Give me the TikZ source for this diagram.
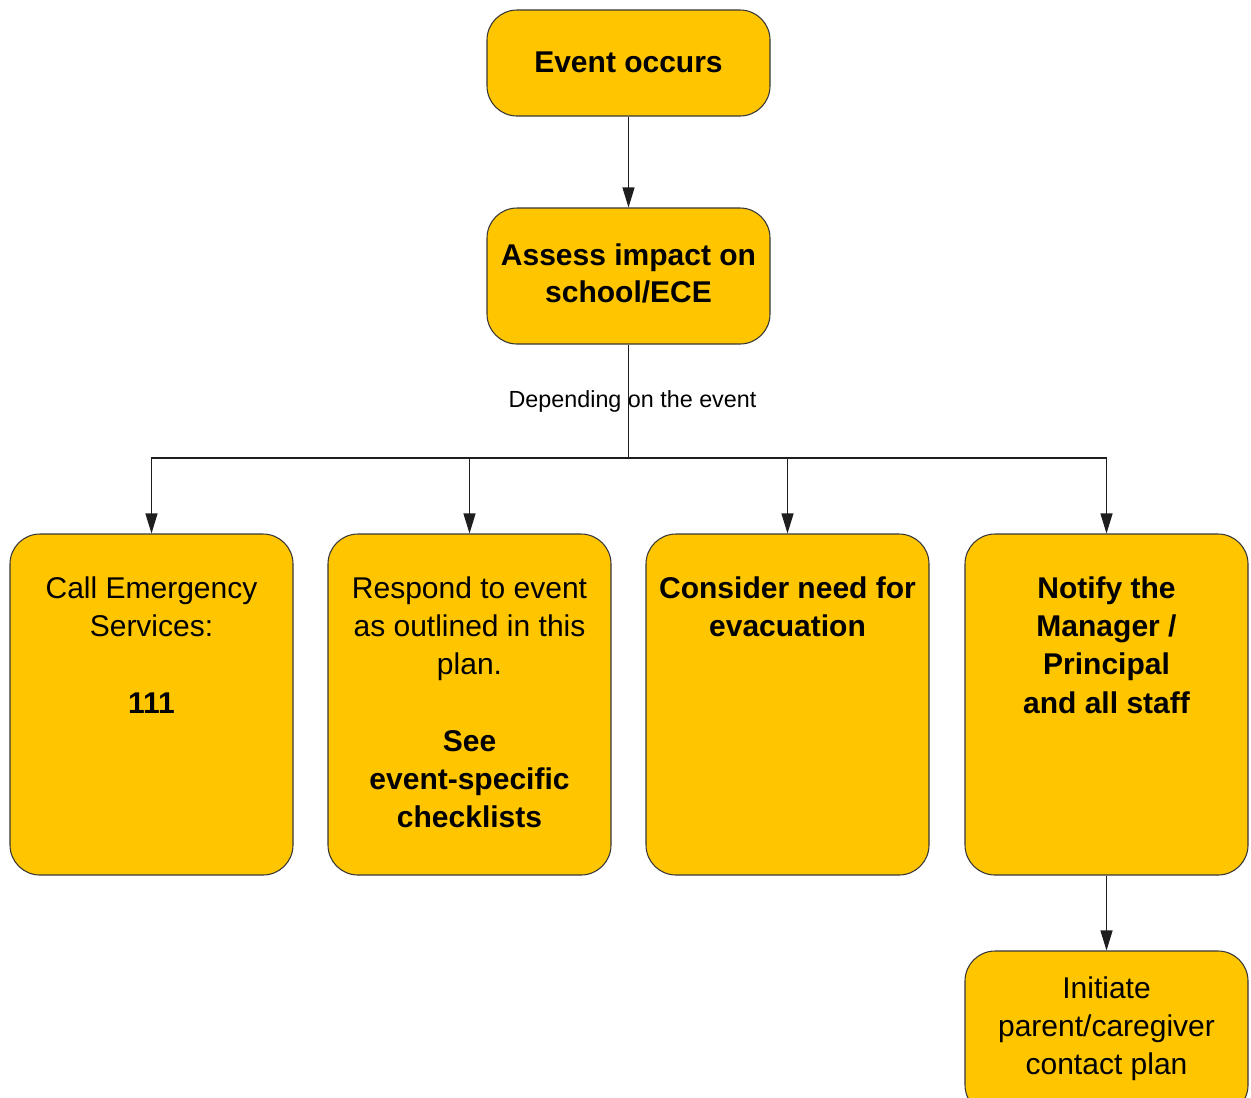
\documentclass[tikz,border=0pt]{standalone}
\usepackage{fontspec}
\setmainfont{Liberation Sans}
\usetikzlibrary{arrows.meta}
\definecolor{boxfill}{RGB}{255,198,0}
\definecolor{boxline}{RGB}{55,55,55}
\definecolor{conn}{RGB}{30,30,30}
\begin{document}
\begin{tikzpicture}[x=0.75pt,y=-0.75pt,
  box/.style={draw=boxline, line width=0.8pt, fill=boxfill, rounded corners=22.5pt, inner sep=0pt, minimum width=212.25pt},
  txt/.style={font=\fontsize{22.5}{28.7}\selectfont, align=center, inner sep=0pt, anchor=north},
  one/.style={font=\fontsize{22.5}{28.7}\selectfont\bfseries, inner sep=0pt, anchor=base},
  lbl/.style={font=\fontsize{17.5}{21}\selectfont, inner sep=0pt, anchor=base},
  arr/.style={draw=conn, line width=0.8pt, -{Triangle[length=15pt,width=9pt]}},
  ln/.style={draw=conn, line width=0.8pt}]
\clip (0,0) rectangle (1251,1097);
\fill[white] (0,0) rectangle (1251,1097);
% boxes
\node[box, minimum height=79.5pt] (ev) at (628.5,63) {};
\node[box, minimum height=102pt] (as) at (628.5,276) {};
\node[box, minimum height=255.75pt] (b1) at (151.5,704.5) {};
\node[box, minimum height=255.75pt] (b2) at (469.5,704.5) {};
\node[box, minimum height=255.75pt] (b3) at (787.5,704.5) {};
\node[box, minimum height=255.75pt] (b4) at (1106.5,704.5) {};
\node[box, minimum height=123pt] (b5) at (1106.5,1033) {};
% texts
\node[one] (tev) at (628.5,72) {Event occurs};
\node[txt, font=\fontsize{22.5}{27.8}\selectfont\bfseries] (tas) at (628.5,238.33) {\rule{0pt}{20pt}Assess impact on\\school/ECE};
\node[txt] (t1) at (151.5,571.33) {\rule{0pt}{20pt}Call Emergency\\Services:\\[28.7pt]\textbf{111}};
\node[txt] (t2) at (469.5,571.33) {\rule{0pt}{20pt}Respond to event\\as outlined in this\\plan.\\[28.7pt]\textbf{See}\\\textbf{event-specific}\\\textbf{checklists}};
\node[txt, font=\fontsize{22.5}{28.7}\selectfont\bfseries] (t3) at (787.5,571.33) {\rule{0pt}{20pt}Consider need for\\evacuation};
\node[txt, font=\fontsize{22.5}{28.7}\selectfont\bfseries] (t4) at (1106.5,571.33) {\rule{0pt}{20pt}Notify the\\Manager /\\Principal\\and all staff};
\node[txt] (t5) at (1106.5,971.33) {\rule{0pt}{20pt}Initiate\\parent/caregiver\\contact plan};
\node[lbl] (dep) at (632.5,407) {Depending on the event};
% connectors
\coordinate (j) at (628.5,458);
\draw[arr] (ev.south) -- (as.north);
\draw[ln] (as.south) -- (j);
\draw[arr] (j) -| (b1.north);
\draw[arr] (j) -| (b2.north);
\draw[arr] (j) -| (b3.north);
\draw[arr] (j) -| (b4.north);
\draw[arr] (b4.south) -- (b5.north);
\end{tikzpicture}
\end{document}
